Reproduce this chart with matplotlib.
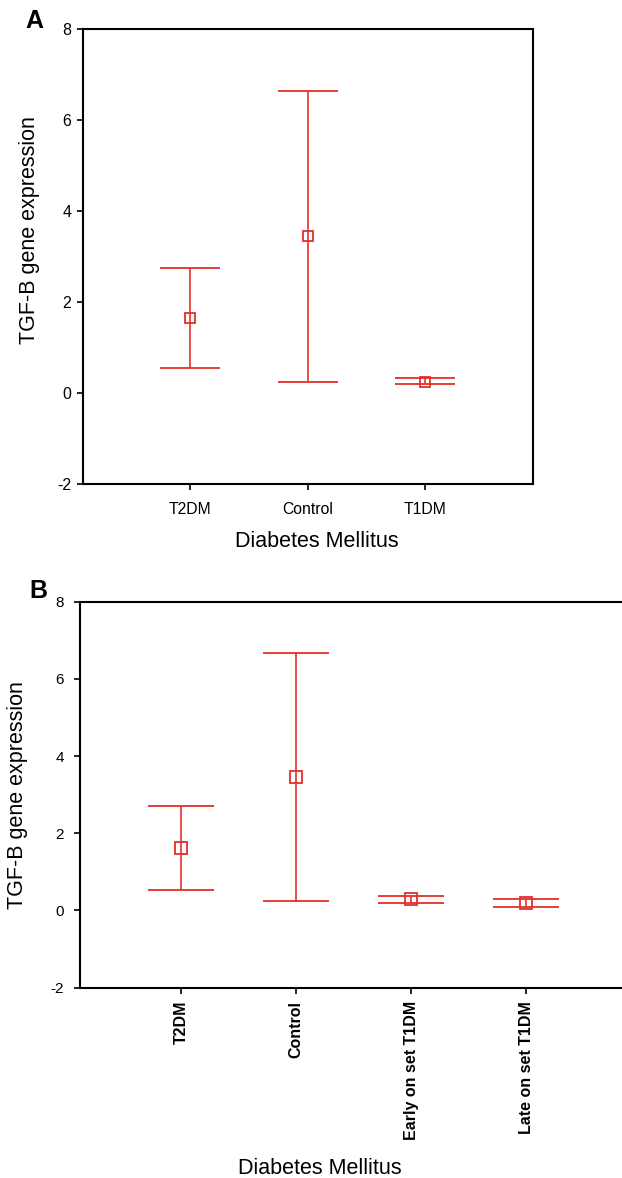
import matplotlib
matplotlib.use("Agg")
from matplotlib import pyplot as plt

plt.rcParams['font.family'] = ['Liberation Sans', 'DejaVu Sans']
plt.rcParams['axes.unicode_minus'] = False

# panel A
groups_a = ['T2DM', 'Control', 'T1DM']
mean_a = [1.65, 3.44, 0.25]
low_a = [0.55, 0.25, 0.19]
high_a = [2.75, 6.64, 0.33]

# panel B
groups_b = ['T2DM', 'Control', 'Early on set T1DM', 'Late on set T1DM']
mean_b = [1.63, 3.45, 0.29, 0.19]
low_b = [0.53, 0.24, 0.19, 0.10]
high_b = [2.72, 6.66, 0.38, 0.29]

yticks = [-2, 0, 2, 4, 6, 8]
red = '#e3302a'

W, H = 622, 1178
fig = plt.figure(figsize=(W/100, H/100), dpi=100)


def draw(ax, means, lows, highs, cap, msize):
    x = list(range(1, len(means)+1))
    err = [[m - l for m, l in zip(means, lows)], [h - m for m, h in zip(means, highs)]]
    ax.errorbar(x, means, yerr=err, fmt='s', color=red, ecolor=red,
                mfc='none', mec=red, ms=msize, mew=1.3,
                elinewidth=1.2, capsize=cap, capthick=1.2, clip_on=False)
    ax.set_ylim(-2, 8)
    ax.set_yticks(yticks)
    ax.set_xticks(x)
    for s in ax.spines.values():
        s.set_linewidth(1.5)
    ax.tick_params(direction='out', length=4, width=1.2, labelsize=11.5)
    return x


# A
axA = fig.add_axes([82.5/W, 1-484/H, 450.2/W, 455.4/H])
draw(axA, mean_a, low_a, high_a, 21.5, 6.7)
axA.set_xlim(0.085, 3.915)
axA.set_xticklabels(groups_a, fontsize=11.3)
axA.tick_params(axis='x', pad=9)
axA.tick_params(axis='y', pad=4)
fig.text(30/W, 1-230/H, 'TGF-B gene expression', rotation=90, fontsize=15.5,
         ha='center', va='center')
fig.text(317/W, 1-541/H, 'Diabetes Mellitus', fontsize=15.5, ha='center', va='center')
fig.text(34/W, 1-21/H, 'A', fontsize=18, fontweight='bold', ha='center', va='center')

# B
axB = fig.add_axes([79.8/W, 1-987.6/H, 547.9/W, 385.8/H])
draw(axB, mean_b, low_b, high_b, 23.6, 8.4)
axB.set_xlim(0.117, 4.883)
axB.set_xticklabels(groups_b, rotation=90, fontsize=11.5, fontweight='bold',
                    va='top', ha='center')
axB.tick_params(axis='y', labelsize=11)
axB.tick_params(axis='x', pad=5.5)
axB.tick_params(axis='y', pad=7.5)
fig.text(18/W, 1-795/H, 'TGF-B gene expression', rotation=90, fontsize=15.5,
         ha='center', va='center')
fig.text(320/W, 1-1169/H, 'Diabetes Mellitus', fontsize=15.5, ha='center', va='center')
fig.text(38/W, 1-591/H, 'B', fontsize=18, fontweight='bold', ha='center', va='center')

fig.savefig('out.png', dpi=100)
